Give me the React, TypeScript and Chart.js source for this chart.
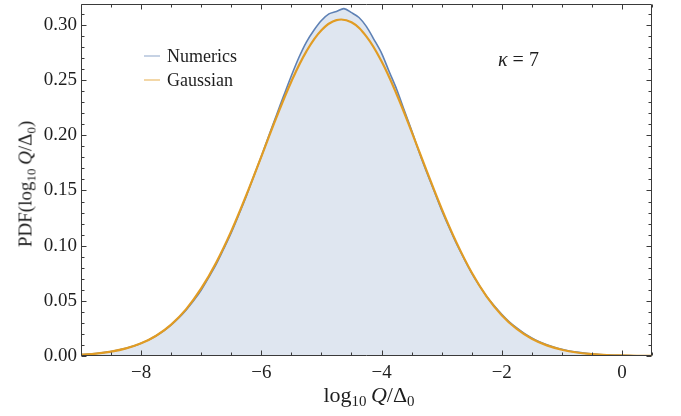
import React, { useEffect, useRef } from "react";
import { Chart, registerables } from "chart.js";

Chart.register(...registerables);

// ---- data ----
const seriesLabels = ["Numerics", "Gaussian"];

const numericsX = [
  -9, -8.875, -8.75, -8.625, -8.5, -8.375, -8.25, -8.125, -8,
  -7.875, -7.75, -7.625, -7.5, -7.375, -7.25, -7.125, -7,
  -6.875, -6.75, -6.625, -6.5, -6.375, -6.25, -6.125, -6,
  -5.875, -5.75, -5.625, -5.5, -5.375, -5.25, -5.125, -5,
  -4.875, -4.75, -4.625, -4.5, -4.375, -4.25, -4.125, -4,
  -3.875, -3.75, -3.625, -3.5, -3.375, -3.25, -3.125, -3,
  -2.875, -2.75, -2.625, -2.5, -2.375, -2.25, -2.125, -2,
  -1.875, -1.75, -1.625, -1.5, -1.375, -1.25, -1.125, -1,
  -0.875, -0.75, -0.625, -0.5, -0.375, -0.25, -0.125, 0,
  0.125, 0.25, 0.375, 0.5,
];
const numericsY = [
  0.0013, 0.0017, 0.0023, 0.0031, 0.0041, 0.0054, 0.007, 0.009, 0.0116,
  0.0146, 0.0183, 0.0228, 0.0282, 0.0345, 0.0418, 0.0502, 0.0598,
  0.0712, 0.0832, 0.0972, 0.1118, 0.128, 0.1448, 0.163, 0.1808,
  0.1996, 0.218, 0.2362, 0.254, 0.2705, 0.2845, 0.2952, 0.304,
  0.31, 0.3122, 0.3148, 0.3112, 0.3068, 0.2985, 0.2868, 0.2745,
  0.258, 0.242, 0.2232, 0.2045, 0.185, 0.1668, 0.1495, 0.1322,
  0.1165, 0.1015, 0.088, 0.0752, 0.064, 0.054, 0.0455, 0.0378,
  0.031, 0.0254, 0.0205, 0.0164, 0.013, 0.0102, 0.0079, 0.0061,
  0.0046, 0.0035, 0.0026, 0.0019, 0.0014, 0.001, 0.0007, 0.0005,
  0.0003, 0.0002, 0.0001, 0.0001,
];

const gaussX = [
  -9, -8.75, -8.5, -8.25, -8, -7.75, -7.5, -7.25, -7, -6.75, -6.5, -6.25, -6,
  -5.75, -5.5, -5.25, -5, -4.75, -4.5, -4.25, -4, -3.75, -3.5, -3.25, -3,
  -2.75, -2.5, -2.25, -2, -1.75, -1.5, -1.25, -1, -0.75, -0.5, -0.25, 0,
  0.25, 0.5,
];
const gaussY = [
  0.0012, 0.0022, 0.004, 0.0069, 0.0115, 0.0184, 0.0285, 0.0425, 0.0612,
  0.0848, 0.1132, 0.1458, 0.1807, 0.216, 0.2488, 0.2761, 0.2953, 0.3044,
  0.3024, 0.2895, 0.2671, 0.2374, 0.2034, 0.168, 0.1336, 0.1025, 0.0757,
  0.0539, 0.037, 0.0245, 0.0156, 0.0096, 0.0057, 0.0032, 0.0018, 0.0009,
  0.0005, 0.0002, 0.0001,
];

const xTickValues = [-8, -6, -4, -2, 0];
const yTickValues = [0, 0.05, 0.1, 0.15, 0.2, 0.25, 0.3];
const xRange = [-9, 0.5];
const yRange = [0, 0.319];
const annotationText = "= 7";

// ---- styles ----
const FONT = '"Liberation Serif", "DejaVu Serif", serif';
const BLUE = "rgb(94,129,181)";
const ORANGE = "rgb(225,156,36)";
const TEXT = "#1e1e1e";
const FRAME = "#3a3a3a";

const framePlugin = {
  id: "frameTicks",
  afterDatasetsDraw(chart: any) {
    const { ctx, chartArea: a, scales } = chart;
    const xs = scales.x;
    const ys = scales.y;
    ctx.save();
    ctx.strokeStyle = FRAME;
    ctx.lineWidth = 1;
    const L = Math.round(a.left) + 0.5;
    const R = Math.round(a.right) - 0.5;
    const T = Math.round(a.top) + 0.5;
    const B = Math.round(a.bottom) - 0.5;
    ctx.beginPath();
    ctx.rect(L, T, R - L, B - T);
    ctx.stroke();
    ctx.beginPath();
    for (let i = 0; ; i++) {
      const v = xRange[0] + i * 0.5;
      if (v > xRange[1] + 1e-9) break;
      const px = Math.round(xs.getPixelForValue(v)) + 0.5;
      const major = xTickValues.some((t) => Math.abs(t - v) < 1e-9);
      const len = major ? 5 : 3;
      ctx.moveTo(px, B);
      ctx.lineTo(px, B - len);
      ctx.moveTo(px, T);
      ctx.lineTo(px, T + len);
    }
    for (let i = 0; ; i++) {
      const v = yRange[0] + i * 0.01;
      if (v > yRange[1] + 1e-9) break;
      const py = Math.round(ys.getPixelForValue(v)) + 0.5;
      const major = yTickValues.some((t) => Math.abs(t - v) < 1e-9);
      const len = major ? 5 : 3;
      ctx.moveTo(L, py);
      ctx.lineTo(L + len, py);
      ctx.moveTo(R, py);
      ctx.lineTo(R - len, py);
    }
    ctx.stroke();
    ctx.restore();
  },
};

const subStyle: React.CSSProperties = { fontSize: "0.68em", verticalAlign: "-0.3em", lineHeight: 0 };

export default function App() {
  const canvasRef = useRef<HTMLCanvasElement | null>(null);

  useEffect(() => {
    if (!canvasRef.current) return;
    const numerics = numericsX.map((x, i) => ({ x, y: numericsY[i] }));
    const gauss = gaussX.map((x, i) => ({ x, y: gaussY[i] }));
    const chart = new Chart(canvasRef.current, {
      type: "line",
      data: {
        datasets: [
          {
            label: seriesLabels[1],
            data: gauss,
            borderColor: ORANGE,
            borderWidth: 2.2,
            pointRadius: 0,
            tension: 0.4,
            fill: false,
            order: 0,
          },
          {
            label: seriesLabels[0],
            data: numerics,
            borderColor: BLUE,
            borderWidth: 1.6,
            backgroundColor: "rgba(94,129,181,0.2)",
            pointRadius: 0,
            tension: 0.3,
            fill: "origin",
            order: 1,
          },
        ],
      },
      options: {
        animation: false,
        responsive: false,
        maintainAspectRatio: false,
        layout: { padding: { top: 4, right: 29, left: 0, bottom: 0 } },
        plugins: {
          legend: { display: false },
          tooltip: { enabled: false },
          title: { display: false },
        },
        scales: {
          x: {
            type: "linear",
            min: xRange[0],
            max: xRange[1],
            grid: { display: false, drawTicks: false },
            border: { display: false },
            afterBuildTicks: (s: any) => {
              s.ticks = xTickValues.map((v) => ({ value: v }));
            },
            afterFit: (s: any) => {
              s.height = 60;
              s.paddingLeft = 0;
              s.paddingRight = 0;
            },
            ticks: {
              padding: 6,
              color: TEXT,
              font: { family: FONT, size: 19 },
              maxRotation: 0,
              autoSkip: false,
              callback: (v: any) => {
                const n = Number(v);
                return n < 0 ? "\u2212" + Math.abs(n) : String(n);
              },
            },
          },
          y: {
            type: "linear",
            min: yRange[0],
            max: yRange[1],
            grid: { display: false, drawTicks: false },
            border: { display: false },
            afterBuildTicks: (s: any) => {
              s.ticks = yTickValues.map((v) => ({ value: v }));
            },
            afterFit: (s: any) => {
              s.width = 81;
              s.paddingTop = 0;
              s.paddingBottom = 0;
            },
            ticks: {
              padding: 4,
              color: TEXT,
              font: { family: FONT, size: 19 },
              autoSkip: false,
              callback: (v: any) => Number(v).toFixed(2),
            },
          },
        },
      },
      plugins: [framePlugin],
    });
    return () => chart.destroy();
  }, []);

  const legendColors = ["rgba(94,129,181,0.7)", "rgba(225,156,36,0.8)"];

  return (
    <div
      style={{
        position: "fixed",
        left: 0,
        top: 0,
        width: 681,
        height: 416,
        background: "#fff",
        fontFamily: FONT,
        color: TEXT,
      }}
    >
      <canvas
        ref={canvasRef}
        width={681}
        height={416}
        style={{ position: "absolute", left: 0, top: 0, width: 681, height: 416 }}
      />
      {seriesLabels.map((lab, i) => (
        <div
          key={lab}
          style={{
            position: "absolute",
            left: 144,
            top: 56 + i * 24,
            transform: "translateY(-50%)",
            display: "flex",
            alignItems: "center",
            fontSize: 18,
            whiteSpace: "nowrap",
          }}
        >
          <span
            style={{
              display: "inline-block",
              width: 16,
              height: 1.5,
              background: legendColors[i],
              marginRight: 7,
            }}
          />
          <span>{lab}</span>
        </div>
      ))}
      <div
        style={{
          position: "absolute",
          left: 498,
          top: 59,
          transform: "translateY(-50%)",
          fontSize: 20,
          whiteSpace: "pre",
        }}
      >
        <i>κ</i>{" " + annotationText.replace("=", "= ").replace("  ", " ")}
      </div>
      <div
        style={{
          position: "absolute",
          left: 369,
          top: 395,
          transform: "translate(-50%,-50%)",
          fontSize: 22,
          whiteSpace: "nowrap",
          lineHeight: 1,
        }}
      >
        log<sub style={subStyle}>10</sub>
        {"\u2009"}
        <i>Q</i>/Δ<sub style={subStyle}>0</sub>
      </div>
      <div
        style={{
          position: "absolute",
          left: 25,
          top: 184,
          width: 0,
          height: 0,
        }}
      >
        <div
          style={{
            position: "absolute",
            left: 0,
            top: 0,
            transform: "translate(-50%,-50%) rotate(-90deg)",
            fontSize: 19,
            whiteSpace: "nowrap",
            lineHeight: 1,
          }}
        >
          PDF(log<sub style={subStyle}>10</sub>
          {"\u2009"}
          <i>Q</i>/Δ<sub style={subStyle}>0</sub>)
        </div>
      </div>
    </div>
  );
}
